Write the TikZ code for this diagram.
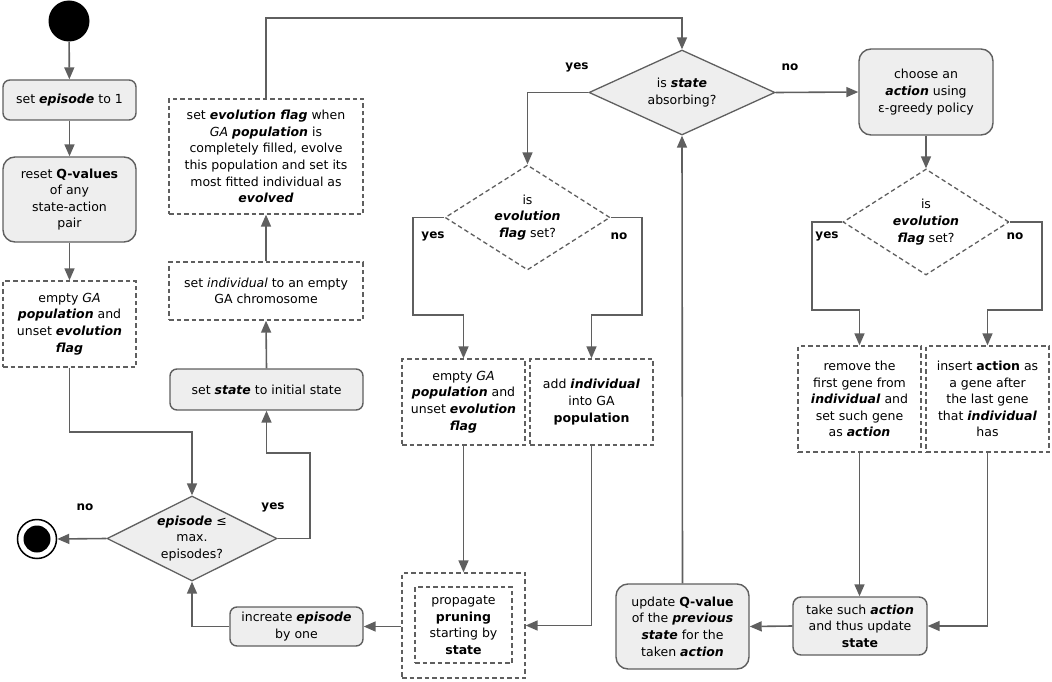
\documentclass[tikz,border=0pt]{standalone}
\usepackage{fontspec}
\setmainfont{DejaVu Sans}
\usetikzlibrary{shapes.geometric,arrows.meta}
\definecolor{ln}{HTML}{5F5F5F}
\definecolor{fl}{HTML}{EEEEEE}
\newcommand{\bi}[1]{\textbf{\textit{#1}}}
\begin{document}
\begin{tikzpicture}[x=1pt,y=-1pt,
  font=\fontsize{12.5}{16.6}\selectfont,
  act/.style={draw=ln, fill=fl, rounded corners=7pt, align=center, inner sep=1pt, line width=1.4pt},
  dbox/.style={draw=ln, dash pattern=on 4.5pt off 3pt, align=center, inner sep=1pt, line width=1.3pt},
  dec/.style={diamond, draw=ln, fill=fl, inner sep=0pt, line width=1.3pt},
  ddec/.style={diamond, draw=ln, dash pattern=on 4.5pt off 3pt, inner sep=0pt, line width=1.3pt},
  dtxt/.style={align=center, inner sep=0pt},
  arr/.style={draw=ln, line width=1.6pt, -{Triangle[length=12pt,width=10pt]}},
  lab/.style={font=\bfseries\fontsize{12}{14}\selectfont}]
\useasboundingbox (0,0) rectangle (1052,682);

% left column
\node[circle, fill=black, minimum size=41pt, inner sep=0pt] (start) at (69,21) {};
\node[act, minimum width=133pt, minimum height=40pt] (e1) at (69.5,100) {set \bi{episode} to 1};
\node[act, rounded corners=12pt, minimum width=133pt, minimum height=85pt] (reset) at (69.5,199.5) {reset \textbf{Q-values}\\of any\\state-action\\pair};
\node[dbox, minimum width=133pt, minimum height=86pt] (empty1) at (69.5,324) {empty \textit{GA}\\\bi{population} and\\unset \bi{evolution}\\\bi{flag}};
\node[dec, minimum width=170pt, minimum height=85pt] (d1) at (192,538.5) {};
\node[dtxt] (d1t) at (d1.center) {\bi{episode} ≤\\max.\\episodes?};
\node[circle, draw=black, line width=1.5pt, minimum size=39pt, inner sep=0pt] (end) at (37,539) {};
\node[circle, fill=black, minimum size=27pt, inner sep=0pt] (endin) at (37,539) {};

% second column
\node[act, minimum width=193pt, minimum height=41pt] (setstate) at (266.5,389.5) {set \bi{state} to initial state};
\node[dbox, minimum width=194pt, minimum height=58pt] (setind) at (266,291) {set \textit{individual} to an empty\\GA chromosome};
\node[dbox, minimum width=194pt, minimum height=115pt] (evo) at (266,156.5) {set \bi{evolution flag} when\\\textit{GA} \bi{population} is\\completely filled, evolve\\this population and set its\\most fitted individual as\\\bi{evolved}};
\node[act, minimum width=133pt, minimum height=39pt] (inc) at (296.5,626.5) {increate \bi{episode}\\by one};

% middle
\node[dec, minimum width=186pt, minimum height=85pt] (d2) at (682,92.5) {};
\node[dtxt] (d2t) at (d2.center) {is \bi{state}\\absorbing?};
\node[ddec, minimum width=165pt, minimum height=105pt] (d3) at (527.5,217.5) {};
\node[dtxt] (d3t) at (d3.center) {is\\\bi{evolution}\\\bi{flag} set?};
\node[dbox, minimum width=123pt, minimum height=86pt] (empty2) at (463.5,402) {empty \textit{GA}\\\bi{population} and\\unset \bi{evolution}\\\bi{flag}};
\node[dbox, minimum width=123pt, minimum height=86pt] (add) at (591.5,402) {add \bi{individual}\\into GA\\\textbf{population}};
\node[dbox, minimum width=123pt, minimum height=105pt] (prop) at (463.5,625.5) {};
\node[dbox, minimum width=97pt, minimum height=76pt] (propin) at (463.5,625) {propagate\\\textbf{pruning}\\starting by\\\textbf{state}};
\node[act, rounded corners=12pt, minimum width=133pt, minimum height=85pt] (upd) at (682.5,626.5) {update \textbf{Q-value}\\of the \bi{previous}\\\bi{state} for the\\taken \bi{action}};

% right
\node[act, rounded corners=12pt, minimum width=134pt, minimum height=86pt] (choose) at (926,92) {choose an\\\bi{action} using\\ε-greedy policy};
\node[ddec, minimum width=166pt, minimum height=106pt] (d4) at (926,222) {};
\node[dtxt] (d4t) at (d4.center) {is\\\bi{evolution}\\\bi{flag} set?};
\node[dbox, minimum width=123pt, minimum height=106pt] (remove) at (859.5,399) {remove the\\first gene from\\\bi{individual} and\\set such gene\\as \bi{action}};
\node[dbox, minimum width=123pt, minimum height=106pt] (insert) at (987.5,399) {insert \textbf{action} as\\a gene after\\the last gene\\that \bi{individual}\\has};
\node[act, rounded corners=8pt, minimum width=134pt, minimum height=58pt] (take) at (860,626) {take such \bi{action}\\and thus update\\\textbf{state}};

% labels
\node[lab] (l1) at (85,507) {no};
\node[lab] (l2) at (273,507) {yes};
\node[lab] (l3) at (577,67) {yes};
\node[lab] (l4) at (790,67) {no};
\node[lab] (l5) at (433,236) {yes};
\node[lab] (l6) at (619,236) {no};
\node[lab] (l7) at (827,236) {yes};
\node[lab] (l8) at (1015,236) {no};

% connectors
\draw[arr] (start) -- (e1);
\draw[arr] (e1) -- (reset);
\draw[arr] (reset) -- (empty1);
\draw[arr] (empty1.south) -- (69.5,432) -| (d1.north);
\draw[arr] (d1.west) -- (end.east);
\draw[arr] (d1.east) -- (310,538.5) -- (310,453) -| (setstate.south);
\draw[arr] (inc.west) -| (d1.south);
\draw[arr] (prop.west |- inc.east) -- (inc.east);
\draw[arr] (setstate.north) -- (setind.south);
\draw[arr] (setind.north) -- (evo.south);
\draw[arr] (evo.north) -- (266,18) -| (d2.north);
\draw[arr] (d2.west) -| (d3.north);
\draw[arr] (d2.east) -- (choose.west);
\draw[arr] (d3.west) -- (413,217.5) -- (413,315) -| (empty2.north);
\draw[arr] (d3.east) -- (642,217.5) -- (642,315) -| (add.north);
\draw[arr] (empty2.south) -- (prop.north);
\draw[arr] (add.south) |- (prop.east);
\draw[arr] (upd.north) -- (d2.south);
\draw[arr] (choose.south) -- (d4.north);
\draw[arr] (d4.west) -- (812,222) -- (812,310) -| (remove.north);
\draw[arr] (d4.east) -- (1042,222) -- (1042,310) -| (insert.north);
\draw[arr] (remove.south) -- (remove.south |- take.north);
\draw[arr] (insert.south) |- (take.east);
\draw[arr] (take.west) -- (upd.east);
\end{tikzpicture}
\end{document}
